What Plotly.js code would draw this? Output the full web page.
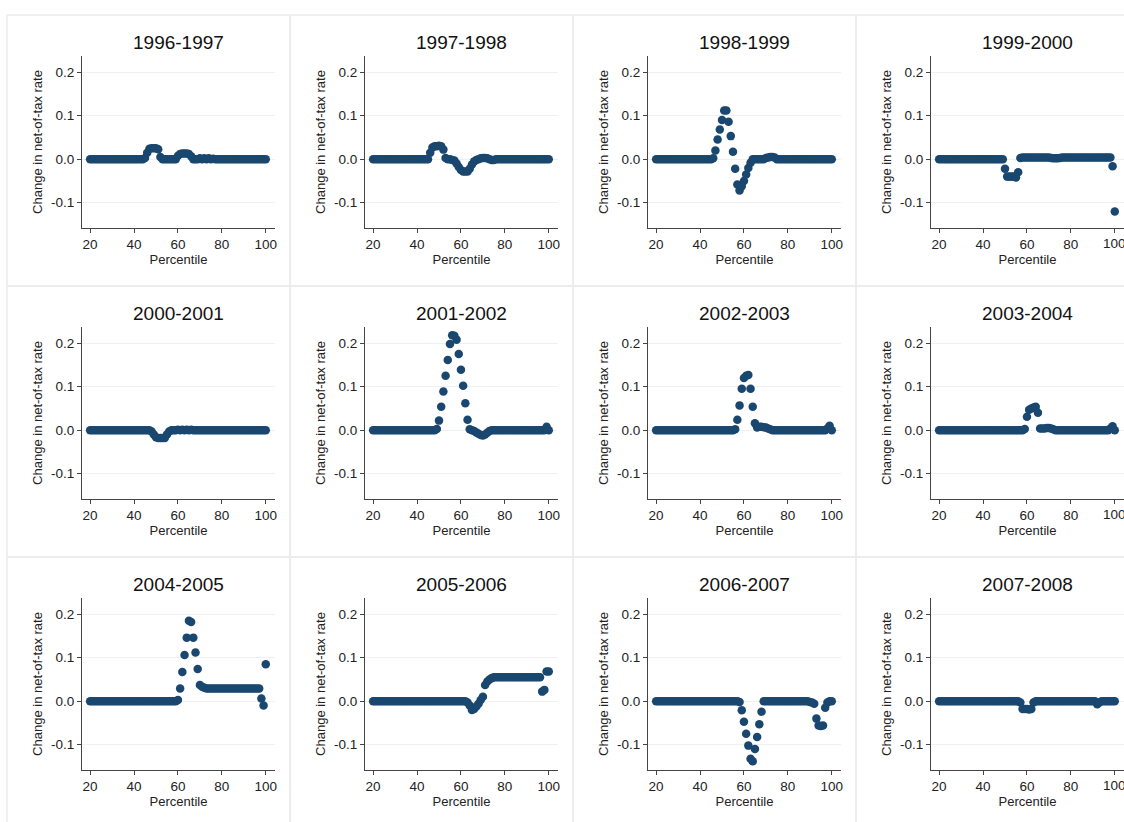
<!DOCTYPE html>
<html>
<head>
<meta charset="utf-8">
<script src="https://cdn.plot.ly/plotly-3.0.1.min.js"></script>
<style>body{margin:0;background:#fff}</style>
</head>
<body>
<div id="plot" style="width:1124px;height:822px"></div>
<script>
// percentiles 20..100; values not listed below are read as 0 (flat line in the picture)
var percentiles = [];
for (var p = 20; p <= 100; p++) percentiles.push(p);

var periods = ['1996-1997', '1997-1998', '1998-1999', '1999-2000',
               '2000-2001', '2001-2002', '2002-2003', '2003-2004',
               '2004-2005', '2005-2006', '2006-2007', '2007-2008'];

var xTicks = [20, 40, 60, 80, 100];

// [percentile, change] pairs
var d9697 = [[45,0.003],[46,0.015],[47,0.024],[48,0.025],[49,0.025],[50,0.025],[51,0.023],[52,0.005],
  [60,0.008],[61,0.012],[62,0.013],[63,0.013],[64,0.013],[65,0.012],[66,0.007],[70,0.002],[72,0.002],[74,0.002],[76,0.001]];
var d9798 = [[46,0.015],[47,0.027],[48,0.03],[49,0.03],[50,0.031],[51,0.03],[52,0.022],[53,0.003],
  [56,-0.002],[57,-0.003],[58,-0.01],[59,-0.018],[60,-0.025],[61,-0.028],[62,-0.028],[63,-0.028],[64,-0.022],
  [65,-0.012],[66,-0.005],[67,-0.002],[69,0.002],[70,0.003],[71,0.003],[72,0.002],[74,-0.002],[75,-0.002]];
var d9899 = [[46,0.002],[47,0.02],[48,0.045],[49,0.068],[50,0.09],[51,0.112],[52,0.112],[53,0.086],[54,0.053],
  [55,0.017],[56,-0.022],[57,-0.058],[58,-0.072],[59,-0.062],[60,-0.05],[61,-0.035],[62,-0.02],[63,-0.008],
  [70,0.003],[71,0.004],[72,0.005],[73,0.005],[74,0.004]];
var d9900 = [[50,-0.022],[51,-0.04],[52,-0.04],[53,-0.04],[54,-0.04],[55,-0.042],[56,-0.03],[57,0.003],
  [58,0.004],[59,0.004],[60,0.004],[61,0.004],[62,0.004],[63,0.004],[64,0.004],[65,0.004],[66,0.004],[67,0.004],
  [68,0.004],[69,0.004],[70,0.004],[71,0.003],[72,0.002],[73,0.002],[74,0.002],[75,0.003],[76,0.004],[77,0.004],
  [78,0.004],[79,0.004],[80,0.004],[81,0.004],[82,0.004],[83,0.004],[84,0.004],[85,0.004],[86,0.004],[87,0.004],
  [88,0.004],[89,0.004],[90,0.004],[91,0.004],[92,0.004],[93,0.004],[94,0.004],[95,0.004],[96,0.004],[97,0.004],
  [98,0.004],[99,-0.016],[100,-0.12]];
var d0001 = [[48,-0.003],[49,-0.01],[50,-0.016],[51,-0.018],[52,-0.018],[53,-0.018],[54,-0.018],[55,-0.01],[56,-0.003],
  [60,0.001],[62,0.001],[64,0.001],[66,0.001]];
var d0102 = [[49,0.003],[50,0.022],[51,0.054],[52,0.089],[53,0.125],[54,0.161],[55,0.198],[56,0.218],[57,0.217],[58,0.208],
  [59,0.175],[60,0.139],[61,0.102],[62,0.062],[63,0.024],[64,0.002],[66,-0.002],[67,-0.005],[68,-0.008],
  [69,-0.011],[70,-0.012],[71,-0.01],[72,-0.006],[73,-0.002],[99,0.008]];
var d0203 = [[56,0.002],[57,0.024],[58,0.057],[59,0.095],[60,0.12],[61,0.125],[62,0.127],[63,0.095],[64,0.054],
  [65,0.016],[66,0.006],[67,0.008],[68,0.008],[69,0.007],[70,0.006],[71,0.004],[72,0.002],[98,0.004],[99,0.01]];
var d0304 = [[59,0.003],[60,0.031],[61,0.047],[62,0.05],[63,0.052],[64,0.054],[65,0.04],[66,0.004],[67,0.004],
  [68,0.004],[69,0.005],[70,0.005],[71,0.004],[72,0.002],[98,0.004],[99,0.009]];
var d0405 = [[60,0.003],[61,0.029],[62,0.067],[63,0.106],[64,0.146],[65,0.185],[66,0.182],[67,0.146],[68,0.112],
  [69,0.074],[70,0.037],[71,0.033],[72,0.031],[73,0.029],[74,0.029],[75,0.029],[76,0.029],[77,0.029],[78,0.029],
  [79,0.029],[80,0.029],[81,0.029],[82,0.029],[83,0.029],[84,0.029],[85,0.029],[86,0.029],[87,0.029],[88,0.029],
  [89,0.029],[90,0.029],[91,0.029],[92,0.029],[93,0.029],[94,0.029],[95,0.029],[96,0.029],[97,0.029],
  [98,0.006],[99,-0.01],[100,0.085]];
var d0506 = [[63,-0.003],[64,-0.01],[65,-0.02],[66,-0.018],[67,-0.012],[68,-0.006],[69,0.003],[70,0.01],[71,0.037],
  [72,0.045],[73,0.05],[74,0.053],[75,0.055],[76,0.055],[77,0.055],[78,0.055],[79,0.055],[80,0.055],[81,0.055],
  [82,0.055],[83,0.055],[84,0.055],[85,0.055],[86,0.055],[87,0.055],[88,0.055],[89,0.055],[90,0.055],[91,0.055],
  [92,0.055],[93,0.055],[94,0.055],[95,0.055],[96,0.055],[97,0.022],[98,0.026],[99,0.068],[100,0.068]];
var d0607 = [[58,-0.002],[59,-0.021],[60,-0.047],[61,-0.075],[62,-0.102],[63,-0.132],[64,-0.138],[65,-0.11],
  [66,-0.082],[67,-0.053],[68,-0.024],[90,-0.002],[91,-0.003],[92,-0.006],[93,-0.04],[94,-0.056],[95,-0.057],
  [96,-0.056],[97,-0.015],[98,-0.003]];
var d0708 = [[57,-0.003],[58,-0.018],[59,-0.018],[60,-0.018],[61,-0.019],[62,-0.018],[63,-0.003],[92,-0.007],[93,-0.003]];

var series = [d9697, d9798, d9899, d9900, d0001, d0102, d0203, d0304, d0405, d0506, d0607, d0708];

var W = 1124, H = 822;
var navy = '#1a476f';
var data = [];
var layout = {
  width: W, height: H, showlegend: false,
  margin: {l: 0, r: 0, t: 0, b: 0},
  paper_bgcolor: '#fff', plot_bgcolor: '#fff',
  font: {family: 'Liberation Sans, Arial', color: '#222'},
  annotations: [], shapes: []
};

for (var i = 0; i < series.length; i++) {
  var col = i % 4, row = Math.floor(i / 4);
  var y = percentiles.map(function () { return 0; });
  series[i].forEach(function (pr) { y[pr[0] - 20] = pr[1]; });
  var n = i + 1;
  var xa = 'x' + (n === 1 ? '' : n), ya = 'y' + (n === 1 ? '' : n);
  data.push({
    x: percentiles, y: y, type: 'scatter', mode: 'markers',
    xaxis: xa, yaxis: ya, cliponaxis: false,
    marker: {color: navy, size: 8.5}
  });

  var px0 = 82 + 283 * col, py0 = 56 + 271 * row;
  var xdom = [px0 / W, Math.min(1, (px0 + 193) / W)];
  var ydom = [1 - (py0 + 172) / H, 1 - py0 / H];
  layout['xaxis' + (n === 1 ? '' : n)] = {
    domain: xdom, anchor: ya, range: [16.3, 104.2],
    tickvals: xTicks, ticks: 'outside', ticklen: 4, tickcolor: '#444',
    showline: true, linecolor: '#444', linewidth: 1, showgrid: false, zeroline: false,
    tickfont: {size: 13.5},
    title: {text: 'Percentile', font: {size: 13}, standoff: 1}
  };
  layout['yaxis' + (n === 1 ? '' : n)] = {
    domain: ydom, anchor: xa, range: [-0.158, 0.237],
    tickvals: [-0.1, 0, 0.1, 0.2], ticktext: ['-0.1', '0.0', '0.1', '0.2'],
    ticks: 'outside', ticklen: 4, tickcolor: '#444',
    showline: true, linecolor: '#444', linewidth: 1,
    showgrid: true, gridcolor: '#eef1f3', zeroline: false,
    tickfont: {size: 13.5},
    title: {text: 'Change in net-of-tax rate', font: {size: 13}, standoff: 5}
  };
  if (col === 3) {
    // last tick label sits past the page edge and is cut off, as in the picture
    layout.annotations.push({
      xref: xa, yref: 'paper', x: xTicks[4], y: ydom[0], yshift: -6,
      xanchor: 'center', yanchor: 'top', showarrow: false,
      text: String(xTicks[4]), font: {size: 13.5, color: '#222'}
    });
  }
  layout.annotations.push({
    xref: 'paper', yref: 'paper', x: (px0 + 96) / W, y: 1 - (py0 - 14) / H,
    xanchor: 'center', yanchor: 'middle', showarrow: false,
    text: periods[i], font: {size: 19, color: '#111'}
  });
  layout.shapes.push({
    type: 'rect', xref: 'paper', yref: 'paper', layer: 'below',
    x0: (7 + 283 * col) / W, x1: (7 + 283 * (col + 1)) / W,
    y0: 1 - (15 + 271 * (row + 1)) / H, y1: 1 - (15 + 271 * row) / H,
    line: {color: '#ececec', width: 1.5}
  });
}

Plotly.newPlot('plot', data, layout, {displayModeBar: false});
</script>
</body>
</html>
